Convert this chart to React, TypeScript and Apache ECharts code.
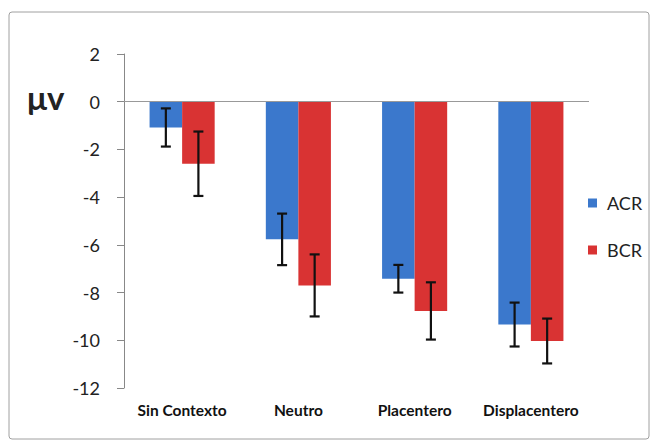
import React, { useEffect, useRef } from "react";
import * as echarts from "echarts";

const categories = ["Sin Contexto", "Neutro", "Placentero", "Displacentero"];
const seriesNames = ["ACR", "BCR"];
const acrValues = [-1.08, -5.77, -7.42, -9.34];
const bcrValues = [-2.6, -7.7, -8.77, -10.03];
const acrErrors = [0.8, 1.08, 0.58, 0.92];
const bcrErrors = [1.35, 1.3, 1.2, 0.94];
const yTicks = { min: -12, max: 2, interval: 2 };

const FONT = "Lato, 'Open Sans', sans-serif";
const BLUE = "#3b78cc";
const RED = "#d93333";

function errorSeries(values: number[], errs: number[], offset: number) {
  return {
    type: "custom",
    silent: true,
    z: 5,
    data: values.map((v, i) => [i, v - errs[i], v + errs[i]]),
    encode: { x: 0, y: [1, 2] },
    renderItem: (params: any, api: any) => {
      const i = api.value(0);
      const lo = api.coord([i, api.value(1)]);
      const hi = api.coord([i, api.value(2)]);
      const cw = api.size([1, 0])[0];
      const x = lo[0] + offset * cw;
      const half = 5;
      const style = { stroke: "#111", lineWidth: 2.2 };
      return {
        type: "group",
        children: [
          { type: "line", shape: { x1: x, y1: lo[1], x2: x, y2: hi[1] }, style },
          { type: "line", shape: { x1: x - half, y1: lo[1], x2: x + half, y2: lo[1] }, style },
          { type: "line", shape: { x1: x - half, y1: hi[1], x2: x + half, y2: hi[1] }, style },
        ],
      };
    },
  };
}

export default function App() {
  const ref = useRef<HTMLDivElement>(null);
  useEffect(() => {
    document.body.style.margin = "0";
    const chart = echarts.init(ref.current!, null, { renderer: "svg" });
    chart.setOption({
      animation: false,
      backgroundColor: "#ffffff",
      textStyle: { fontFamily: FONT },
      grid: { left: 124, right: 67, top: 54, bottom: 55 },
      legend: {
        orient: "vertical",
        left: 583,
        top: 189,
        itemWidth: 9,
        itemHeight: 9,
        itemGap: 29,
        icon: "rect",
        data: seriesNames,
        textStyle: { fontSize: 18, color: "#222", fontFamily: FONT, padding: [0, 0, 0, 5] },
      },
      xAxis: {
        type: "category",
        data: categories,
        axisLine: { show: false, onZero: false },
        axisTick: { show: false },
        axisLabel: {
          interval: 0,
          hideOverlap: false,
          fontSize: 15.5,
          fontWeight: "bold",
          color: "#111",
          margin: 14,
          fontFamily: FONT,
        },
      },
      yAxis: {
        type: "value",
        min: yTicks.min,
        max: yTicks.max,
        interval: yTicks.interval,
        axisLine: { show: true, lineStyle: { color: "#888", width: 1 } },
        axisTick: { show: true, inside: false, length: 7, lineStyle: { color: "#888" } },
        splitLine: { show: false },
        axisLabel: { fontSize: 18, color: "#222", margin: 24, fontFamily: FONT },
      },
      graphic: [
        {
          type: "rect",
          shape: { x: 9, y: 12, width: 640, height: 427, r: 3 },
          style: { fill: "none", stroke: "#a0a0a0", lineWidth: 1 },
          z: -1,
        },
        {
          type: "text",
          left: 27,
          top: 80,
          style: { text: "μv", font: `bold 33px ${FONT}`, fill: "#222" },
        },
      ],
      series: [
        {
          name: seriesNames[0],
          type: "bar",
          data: acrValues,
          barGap: "0%",
          barCategoryGap: "44%",
          itemStyle: { color: BLUE },
          markLine: {
            silent: true,
            symbol: ["none", "none"],
            label: { show: false },
            lineStyle: { color: "#999", type: "solid", width: 1 },
            data: [{ yAxis: 0 }],
          },
        },
        {
          name: seriesNames[1],
          type: "bar",
          data: bcrValues,
          barGap: "0%",
          barCategoryGap: "44%",
          itemStyle: { color: RED },
        },
        errorSeries(acrValues, acrErrors, -0.14),
        errorSeries(bcrValues, bcrErrors, 0.14),
      ],
    });
    return () => chart.dispose();
  }, []);
  return <div ref={ref} style={{ width: 656, height: 443 }} />;
}
